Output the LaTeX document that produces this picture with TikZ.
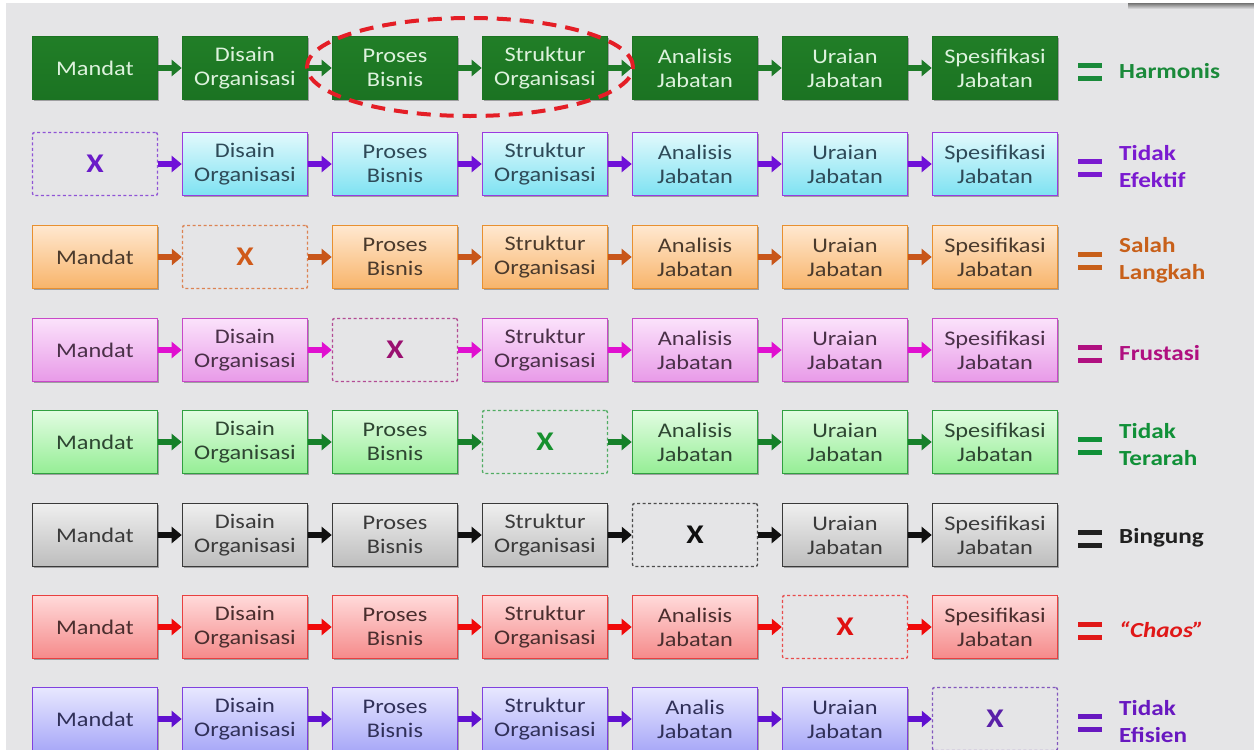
\documentclass[tikz,border=0pt]{standalone}
\usepackage{fontspec}
\setmainfont[FakeStretch=1.17]{Carlito}
\usetikzlibrary{arrows.meta,shadows,shapes.geometric}

% page and slide
\definecolor{slidebg}{HTML}{E5E5E7}
\definecolor{ringred}{HTML}{E41E26}
\definecolor{paletext}{HTML}{DDF2DD}
% row 1: harmonis
\definecolor{top1}{HTML}{217E27}\definecolor{bot1}{HTML}{1B7322}\definecolor{edge1}{HTML}{1B7322}
\definecolor{arr1}{HTML}{1E7A28}\definecolor{xc1}{HTML}{1E7A28}\definecolor{lab1}{HTML}{1A8A3A}
\definecolor{txt1}{HTML}{DDF2DD}
% row 2: tidak efektif
\definecolor{top2}{HTML}{E2F9FC}\definecolor{bot2}{HTML}{7EE2F2}\definecolor{edge2}{HTML}{9A3BE0}
\definecolor{arr2}{HTML}{7010D8}\definecolor{xc2}{HTML}{6A1BC8}\definecolor{lab2}{HTML}{7A1AD0}
\definecolor{txt2}{HTML}{2E4A58}
% row 3: salah langkah
\definecolor{top3}{HTML}{FFE8D0}\definecolor{bot3}{HTML}{F8B46A}\definecolor{edge3}{HTML}{E89030}
\definecolor{arr3}{HTML}{C8561A}\definecolor{xc3}{HTML}{D05A1A}\definecolor{lab3}{HTML}{C8601A}
\definecolor{txt3}{HTML}{4A3A2C}
% row 4: frustasi
\definecolor{top4}{HTML}{FBE2FB}\definecolor{bot4}{HTML}{E89AE8}\definecolor{edge4}{HTML}{C848C8}
\definecolor{arr4}{HTML}{E010D0}\definecolor{xc4}{HTML}{9A1070}\definecolor{lab4}{HTML}{B01080}
\definecolor{txt4}{HTML}{4A3048}
% row 5: tidak terarah
\definecolor{top5}{HTML}{E2FCE2}\definecolor{bot5}{HTML}{95EE95}\definecolor{edge5}{HTML}{30A040}
\definecolor{arr5}{HTML}{16802A}\definecolor{xc5}{HTML}{16902E}\definecolor{lab5}{HTML}{109038}
\definecolor{txt5}{HTML}{2E4632}
% row 6: bingung
\definecolor{top6}{HTML}{EFEFEF}\definecolor{bot6}{HTML}{BDBDBD}\definecolor{edge6}{HTML}{3A3A3A}
\definecolor{arr6}{HTML}{101010}\definecolor{xc6}{HTML}{101010}\definecolor{lab6}{HTML}{202020}
\definecolor{txt6}{HTML}{3A3A3A}
% row 7: chaos
\definecolor{top7}{HTML}{FFDADA}\definecolor{bot7}{HTML}{F58A8A}\definecolor{edge7}{HTML}{E84040}
\definecolor{arr7}{HTML}{F00A0A}\definecolor{xc7}{HTML}{E01010}\definecolor{lab7}{HTML}{E01818}
\definecolor{txt7}{HTML}{4A2E2E}
% row 8: tidak efisien
\definecolor{top8}{HTML}{E8E8FF}\definecolor{bot8}{HTML}{A8A8F8}\definecolor{edge8}{HTML}{8040E0}
\definecolor{arr8}{HTML}{6010D0}\definecolor{xc8}{HTML}{5A20A8}\definecolor{lab8}{HTML}{6818C0}
\definecolor{txt8}{HTML}{303058}

\tikzset{
  x=1pt, y=-1pt,
  stagebox/.style={rectangle, minimum width=125pt, minimum height=63pt,
    inner sep=0pt, align=center, line width=1.6pt,
    font=\fontsize{20.8}{24}\selectfont, text=txt#1,
    top color=top#1, bottom color=bot#1, draw=edge#1,
    drop shadow={shadow xshift=1.5pt, shadow yshift=-1.8pt, opacity=0.3, fill=black}},
  gapbox/.style={rectangle, rounded corners=2pt, minimum width=125pt, minimum height=63pt,
    inner sep=0pt, draw=xc#1!75, line width=1.4pt, dash pattern=on 3pt off 2.5pt,
    text=xc#1, font=\fontsize{27}{30}\bfseries\selectfont},
  flow/.style={draw=arr#1, line width=5.5pt, -{Triangle[length=10pt,width=16pt]}},
  eqbar/.style={draw=lab#1, line width=4.5pt},
  verdict/.style={anchor=west, inner sep=0pt, align=left, text=lab#1,
    font=\fontsize{21.5}{27}\bfseries\selectfont},
  focusring/.style={ellipse, draw=ringred, line width=4pt,
    dash pattern=on 14pt off 9pt, minimum width=326pt, minimum height=98pt, inner sep=0pt}
}

\newcommand{\chaosword}{\itshape\char"201C Chaos\char"201D}

\begin{document}
\begin{tikzpicture}
  \useasboundingbox (0,0) rectangle (1254,750);
  \fill[white] (0,0) rectangle (1254,750);
  \fill[slidebg] (6,3) rectangle (1254,750);
  % shadow of an overlay at the top right corner
  \shade[top color=black!55, bottom color=slidebg] (1128,3) rectangle (1254,9);

  \foreach \r/\yy/\miss/\verd in {
      1/68/0/Harmonis,
      2/164/1/{Tidak\\Efektif},
      3/257/2/{Salah\\Langkah},
      4/350/3/Frustasi,
      5/442/4/{Tidak\\Terarah},
      6/535/5/Bingung,
      7/627/6/\chaosword,
      8/719/7/{Tidak\\Efisien}}{
    \foreach \c/\t in {1/Mandat, 2/{Disain\\Organisasi}, 3/{Proses\\Bisnis},
        4/{Struktur\\Organisasi}, 5/{Analisis\\Jabatan}, 6/{Uraian\\Jabatan},
        7/{Spesifikasi\\Jabatan}}{
      \ifnum\c=\miss
        \node[gapbox=\r] (r\r-\c) at ({95+150*(\c-1)},\yy) {X};
      \else
        \ifnum\r\c=85
          \node[stagebox=\r] (r\r-\c) at ({95+150*(\c-1)},\yy) {Analis\\Jabatan};
        \else
          \node[stagebox=\r] (r\r-\c) at ({95+150*(\c-1)},\yy) {\t};
        \fi
      \fi
    }
    \foreach \c [evaluate=\c as \n using int(\c+1)] in {1,...,6}{
      \draw[flow=\r] (r\r-\c.east) -- (r\r-\n.west);
    }
    \draw[eqbar=\r] (1078,\yy-2.5) -- (1102,\yy-2.5);
    \draw[eqbar=\r] (1078,\yy+10.5) -- (1102,\yy+10.5);
    \node[verdict=\r] (v\r) at (1119,\yy+3) {\verd};
  }

  % the two stages circled in the first row
  \node[focusring] (focus) at (470,67) {};
\end{tikzpicture}
\end{document}
